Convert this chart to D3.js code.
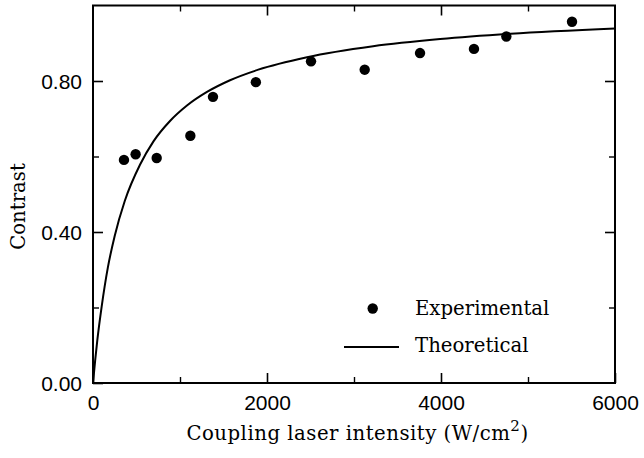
<!DOCTYPE html>
<html>
<head>
<meta charset="utf-8">
<script src="https://cdn.jsdelivr.net/npm/d3@7"></script>
<style>
  html, body { margin: 0; padding: 0; background: #fff; }
  svg { display: block; }
  .tick-label { font-family: "Liberation Sans", Arial, sans-serif; font-size: 21px; fill: #000; }
  .title { font-family: "DejaVu Serif", serif; font-size: 19.7px; fill: #000; }
</style>
</head>
<body>
<svg id="chart" width="644" height="458"></svg>
<script>
// Measured contrast vs coupling laser intensity
const expIntensity = [356, 490, 732, 1119, 1379, 1872, 2506, 3123, 3759, 4379, 4751, 5506];
const expContrast  = [0.591, 0.606, 0.596, 0.655, 0.758, 0.797, 0.852, 0.830, 0.874, 0.885, 0.918, 0.957];

// Theoretical curve, sampled
const theoIntensity = [0, 25, 50, 100, 170, 250, 365, 540, 695, 885, 1080, 1310, 1575, 1900, 2460, 3220, 3990, 4800, 6000];
const theoContrast  = [0, 0.060, 0.114, 0.203, 0.305, 0.390, 0.482, 0.578, 0.640, 0.694, 0.735, 0.771, 0.802, 0.830, 0.863, 0.892, 0.911, 0.925, 0.939];

// Axis ticks
const xMajorTicks = [0, 2000, 4000, 6000];
const xMinorTicks = [1000, 3000, 5000];
const yMajorTicks = [0, 0.4, 0.8];
const yMinorTicks = [0.2, 0.6];
const xTickLabels = ["0", "2000", "4000", "6000"];
const yTickLabels = ["0.00", "0.40", "0.80"];

const svg = d3.select("#chart");
const plotLeft = 93, plotRight = 615, plotTop = 5.5, plotBottom = 383;

const x = d3.scaleLinear().domain([0, 6000]).range([plotLeft, plotRight]);
const y = d3.scaleLinear().domain([0, 1]).range([plotBottom, plotTop]);

const majorLen = 10, minorLen = 6;

function styleTicks(g, w) {
  g.select(".domain").remove();
  g.selectAll("line").attr("stroke", "#000").attr("stroke-width", w);
}

// Bottom axis with labels, ticks pointing inward
svg.append("g")
  .attr("transform", `translate(0,${plotBottom})`)
  .call(d3.axisBottom(x).tickValues(xMajorTicks).tickSize(-majorLen).tickPadding(0)
        .tickFormat((d, i) => xTickLabels[i]))
  .call(g => {
    styleTicks(g, 1.6);
    g.selectAll("text").attr("class", "tick-label").attr("font-size", null)
      .attr("font-family", null).attr("y", 27).attr("dy", 0);
  });
svg.append("g")
  .attr("transform", `translate(0,${plotBottom})`)
  .call(d3.axisBottom(x).tickValues(xMinorTicks).tickSize(-minorLen).tickFormat(""))
  .call(g => styleTicks(g, 1.4));

// Top axis, ticks only
svg.append("g")
  .attr("transform", `translate(0,${plotTop})`)
  .call(d3.axisTop(x).tickValues(xMajorTicks.slice(1, -1)).tickSize(-majorLen).tickFormat(""))
  .call(g => styleTicks(g, 1.6));
svg.append("g")
  .attr("transform", `translate(0,${plotTop})`)
  .call(d3.axisTop(x).tickValues(xMinorTicks).tickSize(-minorLen).tickFormat(""))
  .call(g => styleTicks(g, 1.4));

// Left axis with labels
svg.append("g")
  .attr("transform", `translate(${plotLeft},0)`)
  .call(d3.axisLeft(y).tickValues(yMajorTicks).tickSize(-majorLen).tickPadding(11)
        .tickFormat((d, i) => yTickLabels[i]))
  .call(g => {
    styleTicks(g, 1.6);
    g.selectAll("text").attr("class", "tick-label").attr("font-size", null)
      .attr("font-family", null).attr("x", -11).attr("dy", "0.36em");
  });
svg.append("g")
  .attr("transform", `translate(${plotLeft},0)`)
  .call(d3.axisLeft(y).tickValues(yMinorTicks).tickSize(-minorLen).tickFormat(""))
  .call(g => styleTicks(g, 1.4));

// Right axis, ticks only
svg.append("g")
  .attr("transform", `translate(${plotRight},0)`)
  .call(d3.axisRight(y).tickValues(yMajorTicks.slice(1)).tickSize(-majorLen).tickFormat(""))
  .call(g => styleTicks(g, 1.6));
svg.append("g")
  .attr("transform", `translate(${plotRight},0)`)
  .call(d3.axisRight(y).tickValues(yMinorTicks).tickSize(-minorLen).tickFormat(""))
  .call(g => styleTicks(g, 1.4));

// Frame
svg.append("rect")
  .attr("x", plotLeft).attr("y", plotTop)
  .attr("width", plotRight - plotLeft).attr("height", plotBottom - plotTop)
  .attr("fill", "none").attr("stroke", "#000").attr("stroke-width", 2);

// Theoretical curve
const theo = theoIntensity.map((v, i) => [v, theoContrast[i]]);
svg.append("path")
  .datum(theo)
  .attr("fill", "none")
  .attr("stroke", "#000")
  .attr("stroke-width", 2)
  .attr("d", d3.line().x(d => x(d[0])).y(d => y(d[1])).curve(d3.curveMonotoneX));

// Experimental points
svg.append("g").selectAll("circle")
  .data(expIntensity.map((v, i) => [v, expContrast[i]]))
  .join("circle")
  .attr("cx", d => x(d[0]))
  .attr("cy", d => y(d[1]))
  .attr("r", 5.2)
  .attr("fill", "#000");

// Legend
const legend = svg.append("g");
legend.append("circle").attr("cx", 372.7).attr("cy", 308.5).attr("r", 5.2).attr("fill", "#000");
legend.append("text").attr("class", "title").attr("x", 415).attr("y", 315).text("Experimental");
legend.append("line").attr("x1", 344).attr("x2", 399).attr("y1", 347).attr("y2", 347)
  .attr("stroke", "#000").attr("stroke-width", 2);
legend.append("text").attr("class", "title").attr("x", 415).attr("y", 352).text("Theoretical");

// Axis titles
const xt = svg.append("text").attr("class", "title").attr("x", 357.5).attr("y", 440)
  .attr("text-anchor", "middle").attr("letter-spacing", 0.5);
xt.append("tspan").text("Coupling laser intensity (W/cm");
xt.append("tspan").attr("dy", -9).attr("font-size", 15).text("2");
xt.append("tspan").attr("dy", 9).text(")");

svg.append("text").attr("class", "title")
  .attr("transform", `translate(25,206.5) rotate(-90)`)
  .attr("text-anchor", "middle")
  .text("Contrast");
</script>
</body>
</html>
